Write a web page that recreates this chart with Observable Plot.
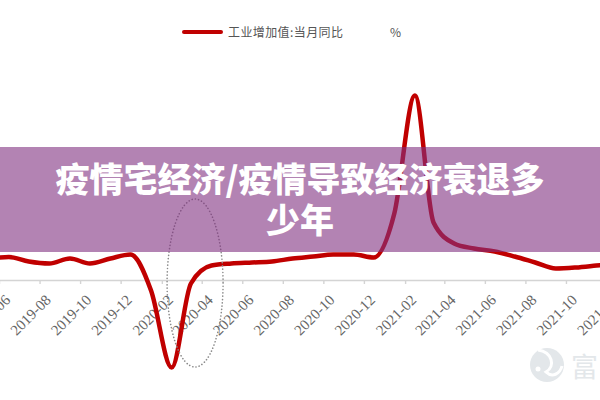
<!DOCTYPE html>
<html><head><meta charset="utf-8">
<script src="https://cdn.jsdelivr.net/npm/d3@7"></script>
<script src="https://cdn.jsdelivr.net/npm/@observablehq/plot@0.6"></script>
<style>html,body{margin:0;padding:0;background:#fff}svg{display:block}</style>
</head><body><div id="chart"></div>
<script>
// Monthly values (工业增加值:当月同比 %)
const months = ["2019-05","2019-06","2019-07","2019-08","2019-09","2019-10","2019-11","2019-12",
  "2020-01","2020-02","2020-03","2020-04","2020-05","2020-06","2020-07","2020-08","2020-09","2020-10","2020-11","2020-12",
  "2021-01","2021-02","2021-03","2021-04","2021-05","2021-06","2021-07","2021-08","2021-09","2021-10","2021-11","2021-12"];
const values = [5.25,5.9,4.75,4.25,5.5,4.25,5.5,6.5,
  -2.5,-21.75,-0.75,3.75,4.25,4.5,4.75,5.5,6.0,6.5,6.5,5.75,
  16.75,46.25,14.5,9.25,8.0,7.25,6.0,4.5,3.0,3.25,3.75,4.25];
const tickLabels = ["2019-06","2019-08","2019-10","2019-12","2020-02","2020-04","2020-06","2020-08",
  "2020-10","2020-12","2021-02","2021-04","2021-06","2021-08","2021-10","2021-12"];
const seriesName = "工业增加值:当月同比";
const unitLabel = "%";
const titleLines = ["疫情宅经济/疫情导致经济衰退多","少年"];
const watermark = "富";

const parse = d3.utcParse("%Y-%m");
const mid = s => d3.utcDay.offset(parse(s), 14);
const data = months.map((m, i) => ({date: mid(m), value: values[i]}));
const ticks = tickLabels.map(s => ({start: parse(s), mid: mid(s), label: s}));

const plot = Plot.plot({
  width: 600, height: 400, margin: 0,
  x: {type: "utc", domain: [parse("2019-06"), parse("2021-12")], range: [-1, 606.5], axis: null},
  y: {domain: [-30, 50], range: [400, 80], axis: null},
  style: {background: "transparent"},
  marks: [
    Plot.ruleY([0], {stroke: "#d4d4d4", strokeWidth: 1.6}),
    Plot.ruleX(ticks, {x: "start", y1: 0, y2: -1, stroke: "#d4d4d4", strokeWidth: 1.4}),
    Plot.text(ticks, {x: "mid", y: 0, text: "label", rotate: -45, textAnchor: "end", dx: -1, dy: 17,
      fontSize: 15, fontFamily: "Liberation Serif", fill: "#666"}),
    Plot.line(data, {x: "date", y: "value", curve: "monotone-x", stroke: "#c00000", strokeWidth: 4.5, clip: true})
  ]
});
document.getElementById("chart").appendChild(plot);

const svg = d3.select(plot);
const xs = plot.scale("x"), ys = plot.scale("y");

// dotted ellipse annotation around the 2020 trough
svg.append("ellipse")
  .attr("cx", xs.apply(new Date(Date.UTC(2020, 2, 22))))
  .attr("cy", ys.apply(-0.75))
  .attr("rx", 28).attr("ry", 84)
  .attr("fill", "none").attr("stroke", "#8a8a8a").attr("stroke-width", 1.6)
  .attr("stroke-dasharray", "0.1 3.2").attr("stroke-linecap", "round");

// title banner
svg.append("rect").attr("x", 0).attr("y", 147).attr("width", 600).attr("height", 105)
  .attr("fill", "#803180").attr("fill-opacity", 0.6);
svg.append("g").attr("text-anchor", "middle")
  .attr("font-family", "'Noto Sans CJK SC', sans-serif").attr("font-weight", 900)
  .attr("font-size", 34).attr("fill", "#fff")
  .selectAll("text").data(titleLines).join("text")
  .attr("x", 300).attr("y", (d, i) => 192 + i * 41).text(d => d);

// legend
svg.append("line").attr("x1", 184).attr("x2", 221).attr("y1", 32).attr("y2", 32)
  .attr("stroke", "#c00000").attr("stroke-width", 4).attr("stroke-linecap", "round");
const lg = svg.append("text").attr("x", 228).attr("y", 37).attr("text-anchor", "start")
  .attr("font-family", "'Noto Sans CJK SC', sans-serif").attr("font-size", 12)
  .attr("letter-spacing", 0.4).attr("fill", "#555");
lg.append("tspan").text(seriesName);
lg.append("tspan").attr("x", 390).text(unitLabel);

// watermark
const wm = svg.append("g").attr("fill", "#e3e7ea");
wm.append("circle").attr("cx", 547).attr("cy", 365).attr("r", 17);
wm.append("path").attr("d", "M538,350 C552,352 556,366 546,372 C552,378 560,374 562,366")
  .attr("fill", "none").attr("stroke", "#fff").attr("stroke-width", 3);
wm.append("circle").attr("cx", 538).attr("cy", 369).attr("r", 2.5).attr("fill", "#fff");
wm.append("text").attr("x", 571).attr("y", 377).attr("text-anchor", "start").attr("font-size", 27)
  .attr("font-family", "'Noto Sans CJK SC', sans-serif").text(watermark);
</script>
</body></html>
